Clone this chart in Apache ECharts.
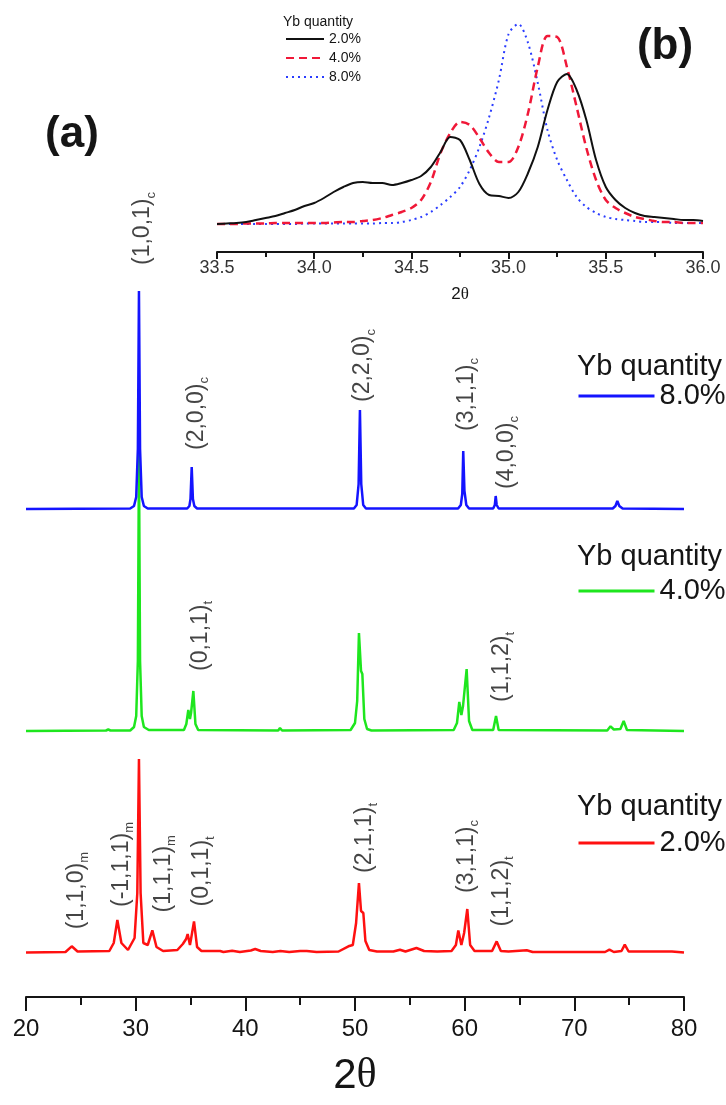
<!DOCTYPE html>
<html>
<head>
<meta charset="utf-8">
<script src="https://cdn.jsdelivr.net/npm/echarts@6/dist/echarts.min.js"></script>
<style>
  html, body { margin: 0; padding: 0; background: #ffffff; }
  #chart { width: 726px; height: 1105px; }
</style>
</head>
<body>
<div id="chart"></div>
<script>
// ---------- (a) full XRD patterns: 2θ (deg) and intensity (a.u.) ----------
const pattern8X = [20, 29.5, 29.85, 30.05, 30.2, 30.3, 30.4, 30.55, 30.75, 31.1, 34.7, 34.9, 35.0, 35.11, 35.22, 35.35, 35.6,
  49.9, 50.15, 50.33, 50.45, 50.57, 50.75, 51.0, 59.4, 59.65, 59.78, 59.87, 59.98, 60.15, 60.4,
  62.6, 62.75, 62.83, 62.92, 63.1, 73.5, 73.75, 73.92, 74.1, 74.4, 80];
const pattern8Y = [0, 0.5, 3, 12, 60, 218, 60, 12, 3, 0.5, 0.5, 3, 10, 42, 10, 3, 0.5,
  0.5, 4, 25, 99, 25, 4, 0.5, 0.5, 4, 15, 58, 18, 4, 0.5,
  0.5, 4, 13, 4, 0.5, 0.5, 3, 8, 3, 0.5, 0];

const pattern4X = [20, 27.3, 27.5, 27.7, 29.5, 29.85, 30.05, 30.2, 30.3, 30.4, 30.55, 30.75, 31.2,
  34.4, 34.62, 34.8, 34.95, 35.05, 35.26, 35.45, 35.7, 43.0, 43.16, 43.35,
  49.6, 50.0, 50.2, 50.36, 50.55, 50.67, 50.85, 51.1, 51.5,
  59.0, 59.3, 59.51, 59.7, 59.85, 60.18, 60.4, 60.7, 62.6, 62.86, 63.1,
  73.0, 73.3, 73.6, 74.2, 74.5, 74.8, 80];
const pattern4Y = [0, 0.5, 1.5, 0.5, 0.5, 4, 15, 70, 277, 70, 15, 4, 1,
  1, 7, 21, 12, 18, 40, 7, 1, 0.5, 3, 0.5,
  1, 8, 30, 98, 60, 57, 12, 2, 0.5,
  1, 8, 29, 16, 25, 62, 10, 1, 1, 15, 1,
  0.5, 4.7, 1.5, 2, 10, 1, 0];

const pattern2X = [20, 23.6, 24.17, 24.7, 27.6, 28.0, 28.33, 28.7, 29.3, 29.9, 30.15, 30.3, 30.45, 30.7,
  31.1, 31.52, 31.9, 32.5, 33.8, 34.3, 34.6, 34.74, 34.95, 35.05, 35.32, 35.6, 36.0,
  37.7, 38.0, 38.8, 39.5, 40.5, 40.9, 41.4, 42.5, 43.2, 44.0, 45.0, 45.6, 46.5, 48.5,
  49.4, 49.8, 50.1, 50.36, 50.55, 50.76, 50.95, 51.3, 52.0, 53.5, 54.1, 54.6, 55.6, 56.3, 57.5,
  58.8, 59.2, 59.42, 59.7, 59.95, 60.24, 60.5, 60.9, 62.5, 62.92, 63.3, 64.0, 65.66, 66.2,
  72.8, 73.2, 73.6, 74.3, 74.6, 74.95, 78.9, 80];
const pattern2Y = [0.5, 1, 6.7, 1.5, 2, 10, 33, 10, 3, 15, 60, 194, 60, 10,
  8, 22.6, 6, 2, 3, 9, 14, 19, 8, 14, 31.6, 6, 2,
  2, 1, 2.3, 1, 2.5, 4, 2, 1, 2, 1, 2, 2, 1, 1.5,
  6.7, 8, 30, 70, 42, 40, 12, 3, 1.5, 1.5, 3.3, 1.5, 5, 2, 1.5,
  2, 8, 22.6, 8, 20, 44, 8, 2, 2, 11.6, 2, 1.5, 2.7, 1,
  1, 3.3, 1, 2, 8.3, 1.5, 1.5, 0.5];

// Miller-index labels of the indexed reflections
const hkl8Text = ['(1,0,1)', '(2,0,0)', '(2,2,0)', '(3,1,1)', '(4,0,0)'];
const hkl8Phase = ['c', 'c', 'c', 'c', 'c'];
const hkl8At = [30.3, 35.11, 50.45, 59.87, 62.83];

const hkl4Text = ['(0,1,1)', '(1,1,2)'];
const hkl4Phase = ['t', 't'];
const hkl4At = [35.26, 62.86];

const hkl2Text = ['(1,1,0)', '(-1,1,1)', '(1,1,1)', '(0,1,1)', '(2,1,1)', '(3,1,1)', '(1,1,2)'];
const hkl2Phase = ['m', 'm', 'm', 't', 't', 'c', 't'];
const hkl2At = [24.17, 28.33, 31.52, 35.32, 50.36, 60.24, 62.92];

// ---------- (b) zoom on 33.5–36.0° ----------
const zoomX = [33.50, 33.55, 33.60, 33.65, 33.70, 33.75, 33.80, 33.85, 33.90, 33.95,
  34.00, 34.05, 34.10, 34.15, 34.20, 34.25, 34.30, 34.35, 34.40, 34.45,
  34.50, 34.55, 34.60, 34.65, 34.70, 34.75, 34.80, 34.85, 34.90, 34.95,
  35.00, 35.05, 35.10, 35.15, 35.20, 35.25, 35.30, 35.35, 35.40, 35.45,
  35.50, 35.55, 35.60, 35.65, 35.70, 35.75, 35.80, 35.85, 35.90, 35.95, 36.00];
const zoom2Y = [0, 0.5, 1, 2, 4, 6, 8, 11, 14, 18,
  21, 26, 32, 37, 41, 42, 41, 41, 39, 41,
  44, 48, 57, 72, 87, 84, 64, 40, 29, 28,
  26, 32, 51, 77, 114, 142, 150, 134, 104, 64,
  37, 24, 16, 11, 8, 7, 6, 5, 4, 4, 3];
const zoom4Y = [0, 0, 0, 0.5, 0.5, 0.5, 1, 1, 1, 1,
  1, 1, 1.5, 2, 2, 3, 4, 6, 9, 12,
  16, 24, 42, 71, 91, 102, 99, 86, 71, 62,
  62, 77, 111, 157, 188, 187, 157, 117, 76, 44,
  24, 16, 11, 7, 5, 3, 2, 2, 1, 1, 1];
const zoom8Y = [0, 0, 0, 0, 0, 0, 0, 0, 0, 0.5,
  0.5, 0.5, 0.5, 0.5, 0.5, 0.5, 0.5, 1, 1, 2,
  4, 7, 12, 19, 27, 37, 54, 77, 107, 144,
  190, 200, 181, 141, 94, 64, 44, 27, 17, 11,
  7, 5, 4, 3, 2, 2, 2, 1, 1, 1, 1];

// ---------- drawing ----------
const FONT = 'Liberation Sans, Arial, sans-serif';
const INK = '#151515';
const BLUE = '#1414ff', GREEN = '#1ee61e', RED = '#ff1010';

// vertical shift between the stacked patterns (a.u. of the main y scale)
const STACK = { '2.0%': 0, '4.0%': 222, '8.0%': 444 };

function pairs(xs, ys, shift) {
  return xs.map((x, i) => [x, ys[i] + shift]);
}

// label placement tweaks (px): horizontal nudge and gap above the peak
const hkl8Nudge = [[4, 26], [5, 17], [3, 8], [3, 20], [11, 7]];
const hkl4Nudge = [[7, 20], [6, 14]];
const hkl2Nudge = [[5, 17], [4, 13], [11, 18], [8, 15], [6, 10], [-1, 16], [5, 15]];

function hklSeries(text, phase, at, xs, ys, shift, nudge) {
  return {
    type: 'scatter', xAxisIndex: 0, yAxisIndex: 0,
    symbolSize: 0, silent: true, z: 5,
    data: at.map((a, i) => ({
      value: [a, ys[xs.indexOf(a)] + shift],
      label: { position: [nudge[i][0], -nudge[i][1]] },
      hkl: text[i], phase: phase[i]
    })),
    label: {
      show: true, rotate: 90, align: 'left', verticalAlign: 'middle',
      formatter: p => '{h|' + p.data.hkl + '}{s|' + p.data.phase + '}',
      rich: {
        h: { fontSize: 23, fontFamily: FONT, color: INK, lineHeight: 29 },
        s: { fontSize: 13, fontFamily: FONT, color: INK, lineHeight: 13, verticalAlign: 'bottom' }
      }
    }
  };
}

function mainLine(name, xs, ys, color) {
  return {
    name: name, type: 'line', xAxisIndex: 0, yAxisIndex: 0,
    data: pairs(xs, ys, STACK[name]),
    symbol: 'none', showSymbol: false, silent: true,
    lineStyle: { color: color, width: 2.5 }, itemStyle: { color: color }
  };
}

function zoomLine(name, ys, color, dash, width) {
  return {
    name: name, type: 'line', xAxisIndex: 1, yAxisIndex: 1,
    data: pairs(zoomX, ys, 0), smooth: 0.3,
    symbol: 'none', showSymbol: false, silent: true,
    lineStyle: { color: color, width: width, type: dash }, itemStyle: { color: color }
  };
}

function mainLegend(name, rowY) {
  return {
    data: [name], left: 577, top: rowY - 15, padding: 0,
    itemWidth: 76, itemHeight: 30, selectedMode: false,
    itemStyle: { opacity: 0 }, lineStyle: { width: 3 },
    textStyle: { fontSize: 29, fontFamily: FONT, color: INK, lineHeight: 30 }
  };
}

function heading(text, x, y, font, align) {
  return {
    type: 'text', x: x, y: y, silent: true,
    style: { text: text, font: font, fill: INK, align: align, verticalAlign: 'middle',
             textAlign: align, textVerticalAlign: 'middle' }
  };
}

const chart = echarts.init(document.getElementById('chart'), null, { renderer: 'canvas' });

chart.setOption({
  animation: false,
  backgroundColor: '#ffffff',
  grid: [
    { left: 26, right: 42, top: 150, bottom: 108 },
    { left: 217, right: 23, top: 15, bottom: 853 }
  ],
  xAxis: [
    {
      gridIndex: 0, type: 'value', min: 20, max: 80, interval: 10,
      axisLine: { onZero: false, lineStyle: { color: INK, width: 2 } },
      axisTick: { length: 14, lineStyle: { color: INK, width: 2 } },
      minorTick: { show: true, splitNumber: 2, length: 8, lineStyle: { color: INK, width: 2 } },
      splitLine: { show: false },
      axisLabel: { fontSize: 24, fontFamily: FONT, color: INK, margin: 20 },
      name: '{a|2}{b|θ}', nameLocation: 'middle', nameGap: 58,
      nameTextStyle: { rich: {
        a: { fontSize: 42, fontFamily: FONT, color: INK },
        b: { fontSize: 42, fontFamily: 'Liberation Serif, Times New Roman, serif', color: INK }
      } }
    },
    {
      gridIndex: 1, type: 'value', min: 33.5, max: 36.0, interval: 0.5,
      axisLine: { onZero: false, lineStyle: { color: INK, width: 2 } },
      axisTick: { length: 7, lineStyle: { color: INK, width: 2 } },
      minorTick: { show: true, splitNumber: 2, length: 5, lineStyle: { color: INK, width: 2 } },
      splitLine: { show: false },
      axisLabel: { fontSize: 18, fontFamily: FONT, color: '#333', margin: 7,
                   formatter: v => v.toFixed(1) },
      name: '{a|2}{b|θ}', nameLocation: 'middle', nameGap: 34,
      nameTextStyle: { rich: {
        a: { fontSize: 17, fontFamily: FONT, color: INK },
        b: { fontSize: 17, fontFamily: 'Liberation Serif, Times New Roman, serif', color: INK }
      } }
    }
  ],
  yAxis: [
    { gridIndex: 0, type: 'value', show: false, min: -44, max: 803, splitLine: { show: false } },
    { gridIndex: 1, type: 'value', show: false, min: -28, max: 209, splitLine: { show: false } }
  ],
  legend: [
    mainLegend('8.0%', 396),
    mainLegend('4.0%', 591),
    mainLegend('2.0%', 843),
    {
      data: ['b 2.0%', 'b 4.0%', 'b 8.0%'], orient: 'vertical',
      left: 285, top: 32, padding: 0, itemGap: 5,
      itemWidth: 38, itemHeight: 14, selectedMode: false,
      itemStyle: { opacity: 0 },
      formatter: n => n.slice(2),
      textStyle: { fontSize: 14, fontFamily: FONT, color: INK, lineHeight: 14 }
    }
  ],
  graphic: [
    heading('(a)', 72, 135, 'bold 44px ' + FONT, 'center'),
    heading('(b)', 665, 47, 'bold 44px ' + FONT, 'center'),
    heading('Yb quantity', 577, 367, '29px ' + FONT, 'left'),
    heading('Yb quantity', 577, 557, '29px ' + FONT, 'left'),
    heading('Yb quantity', 577, 807, '29px ' + FONT, 'left'),
    heading('Yb quantity', 283, 22, '14px ' + FONT, 'left')
  ],
  series: [
    mainLine('2.0%', pattern2X, pattern2Y, RED),
    mainLine('4.0%', pattern4X, pattern4Y, GREEN),
    mainLine('8.0%', pattern8X, pattern8Y, BLUE),
    hklSeries(hkl8Text, hkl8Phase, hkl8At, pattern8X, pattern8Y, STACK['8.0%'], hkl8Nudge),
    hklSeries(hkl4Text, hkl4Phase, hkl4At, pattern4X, pattern4Y, STACK['4.0%'], hkl4Nudge),
    hklSeries(hkl2Text, hkl2Phase, hkl2At, pattern2X, pattern2Y, STACK['2.0%'], hkl2Nudge),
    zoomLine('b 8.0%', zoom8Y, '#2a3cff', [2, 4], 2),
    zoomLine('b 4.0%', zoom4Y, '#f01838', [8, 5], 2.5),
    zoomLine('b 2.0%', zoom2Y, '#111111', 'solid', 2)
  ]
});
</script>
</body>
</html>
